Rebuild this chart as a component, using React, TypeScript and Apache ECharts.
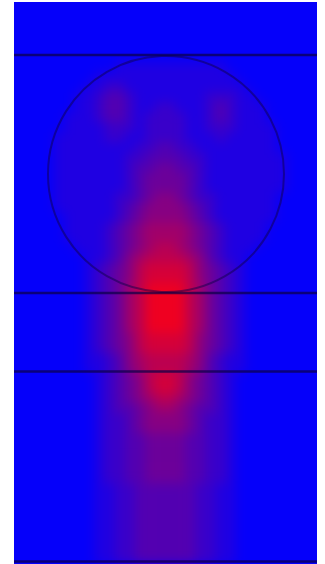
import { useEffect, useRef } from "react";
import * as echarts from "echarts";

// Intensity of the field (0 = blue, 9 = red), one string per row (top to bottom), 30 columns each
const intensityRows: string[] = [
  "000000000000000000000000000000",
  "000000000000000000000000000000",
  "000000000000000000000000000000",
  "000000000000000000000000000000",
  "000000000000000000000000000000",
  "000000000000000000000000000000",
  "000000000011111111111000000000",
  "000000001111111111111100000000",
  "000000011221111111111110000000",
  "000000112332111111122211000000",
  "000000112332112211123211100000",
  "000001112332122221123211100000",
  "000001111222122221122211110000",
  "000011111221122221112111110000",
  "000011111111223322111111110000",
  "000011111112233332211111111000",
  "000011111112334433211111111000",
  "000011111112344443211111111000",
  "000011111112344443211111111000",
  "000011111122345543221111110000",
  "000011111123455554321111110000",
  "000001111123455554321111110000",
  "000001111234566665432111100000",
  "000001111234566665432111100000",
  "000000111234567765432111000000",
  "000000011235677776532110000000",
  "000000012345788887543210000000",
  "000000012345788887543210000000",
  "000000012346799997643210000000",
  "000000012346799997643210000000",
  "000000012346799997643210000000",
  "000000012346799997643210000000",
  "000000012346799997643210000000",
  "000000012345788887543210000000",
  "000000012345788887543210000000",
  "000000011235677776532110000000",
  "000000011235677776532110000000",
  "000000001234578875432100000000",
  "000000001234578875432100000000",
  "000000001234567765432100000000",
  "000000001233456654332100000000",
  "000000001223455554322100000000",
  "000000001223455554322100000000",
  "000000001223344443322100000000",
  "000000001223344443322100000000",
  "000000001223344443322100000000",
  "000000001223344443322100000000",
  "000000001223344443322100000000",
  "000000001122333333221100000000",
  "000000001122333333221100000000",
  "000000001122333333221100000000",
  "000000001122333333221100000000",
  "000000001122333333221100000000",
  "000000001122333333221100000000",
  "000000001122333333221100000000",
  "000000001122333333221100000000",
];

const xCells: string[] = intensityRows[0].split("").map((_, i) => String(i));
const yCells: string[] = intensityRows.map((_, j) => String(j));

// Field extent (data units) and overlay geometry
const fieldWidth = 303;
const fieldHeight = 562;
const boundaryLinesY: number[] = [53, 291, 369.5, 559.5];
const circleCenter: number[] = [152, 172];
const circleRadius = 118;

const blueColor = "#0500fa";
const redColor = "#f00020";
const PAD = 24;

export default function App() {
  const heatRef = useRef<HTMLDivElement>(null);
  const lineRef = useRef<HTMLDivElement>(null);

  useEffect(() => {
    if (!heatRef.current || !lineRef.current) return;
    const heatChart = echarts.init(heatRef.current, undefined, { renderer: "svg" });
    const lineChart = echarts.init(lineRef.current, undefined, { renderer: "svg" });

    const heat: number[][] = [];
    intensityRows.forEach((row, j) => {
      row.split("").forEach((ch, i) => {
        heat.push([i, j, Number(ch)]);
      });
    });

    heatChart.setOption({
      animation: false,
      backgroundColor: blueColor,
      grid: { left: PAD, top: PAD, width: fieldWidth, height: fieldHeight, show: false },
      xAxis: { type: "category", data: xCells, show: false },
      yAxis: { type: "category", data: yCells, show: false, inverse: true },
      visualMap: {
        show: false,
        min: 0,
        max: 9,
        dimension: 2,
        seriesIndex: 0,
        inRange: { color: [blueColor, redColor] },
      },
      series: [
        {
          type: "heatmap",
          data: heat,
          itemStyle: { borderWidth: 0 },
          silent: true,
        },
      ],
    });

    lineChart.setOption({
      animation: false,
      grid: { left: 14, top: 2, width: fieldWidth, height: fieldHeight, show: false },
      xAxis: { type: "value", min: 0, max: fieldWidth, show: false },
      yAxis: { type: "value", min: 0, max: fieldHeight, show: false, inverse: true },
      series: [
        ...boundaryLinesY.map((y) => ({
          type: "line",
          data: [
            [0, y],
            [fieldWidth, y],
          ],
          symbol: "none",
          silent: true,
          lineStyle: { color: "rgba(12,0,70,0.72)", width: 2.5 },
        })),
        {
          type: "custom",
          silent: true,
          data: [[circleCenter[0], circleCenter[1], circleRadius]],
          renderItem: (_params: any, api: any) => {
            const c = api.coord([api.value(0), api.value(1)]);
            const r = api.size([api.value(2), 0])[0];
            return {
              type: "circle",
              shape: { cx: c[0], cy: c[1], r },
              style: {
                fill: "none",
                stroke: "rgba(15,0,75,0.5)",
                lineWidth: 2,
              },
            };
          },
        },
      ],
    });

    return () => {
      heatChart.dispose();
      lineChart.dispose();
    };
  }, []);

  return (
    <div style={{ position: "fixed", left: 0, top: 0, width: 325, height: 564 }}>
      <div
        style={{
          position: "absolute",
          left: 14,
          top: 2,
          width: fieldWidth,
          height: fieldHeight,
          overflow: "hidden",
        }}
      >
        <div
          ref={heatRef}
          style={{
            position: "absolute",
            left: -PAD,
            top: -PAD,
            width: fieldWidth + 2 * PAD,
            height: fieldHeight + 2 * PAD,
            filter: "blur(6px)",
          }}
        />
      </div>
      <div
        ref={lineRef}
        style={{ position: "absolute", left: 0, top: 0, width: 325, height: 564 }}
      />
    </div>
  );
}
